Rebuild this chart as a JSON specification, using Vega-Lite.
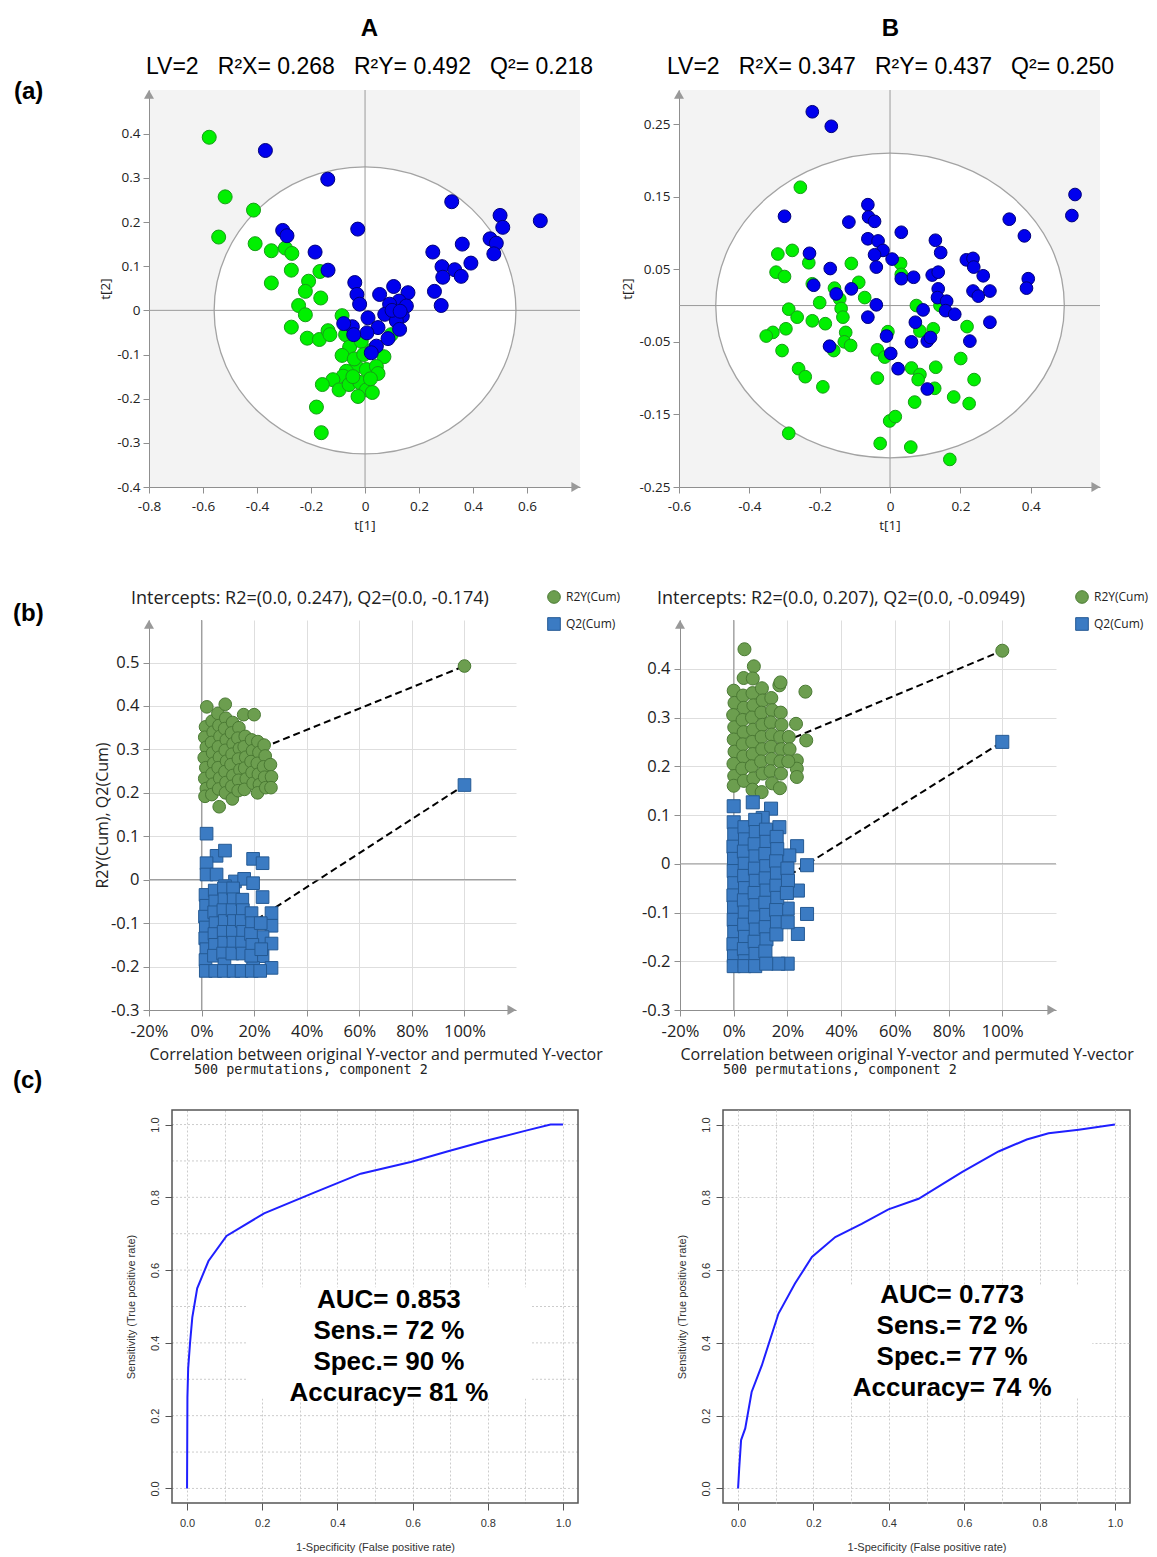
{
"$schema": "https://vega.github.io/schema/vega-lite/v6.json",
"padding": {"left": 12, "top": 16, "right": 4, "bottom": 2},
"background": "white",
"columns": 1,
"align": "none",
"spacing": -9,
"resolve": {"scale": {"color": "independent", "stroke": "independent", "shape": "independent"}, "legend": {"color": "independent", "stroke": "independent", "shape": "independent"}},
"concat": [
{"columns": 1, "align": "none", "spacing": 58,
 "resolve": {"scale": {"color": "independent", "stroke": "independent", "shape": "independent"}, "legend": {"color": "independent", "stroke": "independent", "shape": "independent"}},
 "concat": [
 {"spacing": 26,
  "resolve": {"scale": {"color": "independent", "stroke": "independent", "shape": "independent"}, "legend": {"color": "independent", "stroke": "independent", "shape": "independent"}},
  "hconcat": [
  {"width": 431, "height": 397,
   "view": {"fill": "#f3f3f3", "stroke": null},
   "title": {"text": "A", "subtitle": "LV=2\u00a0\u00a0\u00a0R²X= 0.268\u00a0\u00a0\u00a0R²Y= 0.492\u00a0\u00a0\u00a0Q²= 0.218", "frame": "group", "anchor": "middle", "dx": 5, "offset": 1},
   "layer": [
    {"data": {"name": "origin"}, "mark": {"type": "point", "shape": "M-1,0C-1,-0.5252,-0.5523,-0.951,0,-0.951C0.5523,-0.951,1,-0.5252,1,0C1,0.5252,0.5523,0.951,0,0.951C-0.5523,0.951,-1,0.5252,-1,0Z", "size": 91083, "filled": true, "fill": "white", "stroke": "#a3a3a3", "strokeWidth": 1.3, "opacity": 1},
     "encoding": {
      "x": {"field": "t1", "type": "quantitative", "scale": {"domain": [-0.8, 0.796], "nice": false, "zero": false},
        "axis": {"title": "t[1]", "values": [-0.8,-0.7,-0.6,-0.5,-0.4,-0.3,-0.2,-0.1,0,0.1,0.2,0.3,0.4,0.5,0.6,0.7], "format": "~g",
          "labelExpr": "abs(round(datum.value*10))%2==0 ? datum.label : ''",
          "tickSize": {"condition": {"test": "abs(round(datum.value*10))%2==0", "value": 6}, "value": 3},
          "labelPadding": 6, "titlePadding": 6}},
      "y": {"field": "t2", "type": "quantitative", "scale": {"domain": [-0.4, 0.499], "nice": false, "zero": false},
        "axis": {"title": "t[2]", "values": [-0.4,-0.35,-0.3,-0.25,-0.2,-0.15,-0.1,-0.05,0,0.05,0.1,0.15,0.2,0.25,0.3,0.35,0.4,0.45], "format": "~g",
          "labelExpr": "abs(round(datum.value*20))%2==0 ? datum.label : ''",
          "tickSize": {"condition": {"test": "abs(round(datum.value*20))%2==0", "value": 6}, "value": 3},
          "labelPadding": 3, "titlePadding": 4}}}},
    {"data": {"values": [{}]}, "mark": {"type": "rule", "color": "#9a9a9a", "strokeWidth": 1}, "encoding": {"x": {"datum": 0}}},
    {"data": {"values": [{}]}, "mark": {"type": "rule", "color": "#9a9a9a", "strokeWidth": 1}, "encoding": {"y": {"datum": 0}}},
    {"data": {"name": "scoreA"}, "mark": {"type": "point", "filled": true, "opacity": 1, "size": 196, "strokeWidth": 1},
     "encoding": {"x": {"field": "t1", "type": "quantitative"}, "y": {"field": "t2", "type": "quantitative"},
      "color": {"field": "c", "type": "nominal", "scale": {"domain": ["G", "B"], "range": ["#00f000", "#0000ee"]}, "legend": null},
      "stroke": {"field": "c", "type": "nominal", "scale": {"domain": ["G", "B"], "range": ["#179e17", "#00007a"]}, "legend": null}}},
    {"data": {"values": [{}]}, "mark": {"type": "text", "text": "(a)", "font": "Liberation Sans", "fontSize": 24, "fontWeight": "bold", "align": "left", "baseline": "middle", "color": "black"}, "encoding": {"x": {"datum": -1.3}, "y": {"datum": 0.494}}},
    {"data": {"values": [{}]}, "mark": {"type": "point", "shape": "triangle-up", "size": 100, "filled": true, "color": "#999999", "opacity": 1}, "encoding": {"x": {"datum": -0.8}, "y": {"datum": 0.489}}},
    {"data": {"values": [{}]}, "mark": {"type": "point", "shape": "triangle-right", "size": 100, "filled": true, "color": "#999999", "opacity": 1}, "encoding": {"x": {"datum": 0.780}, "y": {"datum": -0.4}}}
   ]},
  {"width": 421, "height": 397,
   "view": {"fill": "#f3f3f3", "stroke": null},
   "title": {"text": "B", "subtitle": "LV=2\u00a0\u00a0\u00a0R²X= 0.347\u00a0\u00a0\u00a0R²Y= 0.437\u00a0\u00a0\u00a0Q²= 0.250", "frame": "group", "anchor": "middle", "dx": 1, "offset": 11},
   "layer": [
    {"data": {"name": "origin"}, "mark": {"type": "point", "shape": "M-1,0C-1,-0.4827,-0.5523,-0.874,0,-0.874C0.5523,-0.874,1,-0.4827,1,0C1,0.4827,0.5523,0.874,0,0.874C-0.5523,0.874,-1,0.4827,-1,0Z", "size": 121522, "filled": true, "fill": "white", "stroke": "#a3a3a3", "strokeWidth": 1.3, "opacity": 1},
     "encoding": {
      "x": {"field": "t1", "type": "quantitative", "scale": {"domain": [-0.6, 0.597], "nice": false, "zero": false},
        "axis": {"title": "t[1]", "values": [-0.6,-0.5,-0.4,-0.3,-0.2,-0.1,0,0.1,0.2,0.3,0.4,0.5], "format": "~g",
          "labelExpr": "abs(round(datum.value*10))%2==0 ? datum.label : ''",
          "tickSize": {"condition": {"test": "abs(round(datum.value*10))%2==0", "value": 6}, "value": 3},
          "labelPadding": 6, "titlePadding": 6}},
      "y": {"field": "t2", "type": "quantitative", "scale": {"domain": [-0.25, 0.297], "nice": false, "zero": false},
        "axis": {"title": "t[2]", "values": [-0.25,-0.225,-0.2,-0.175,-0.15,-0.125,-0.1,-0.075,-0.05,-0.025,0,0.025,0.05,0.075,0.1,0.125,0.15,0.175,0.2,0.225,0.25,0.275], "format": "~g",
          "labelExpr": "abs(round(datum.value*40))%2==0 ? datum.label : ''",
          "tickSize": {"condition": {"test": "abs(round(datum.value*40))%2==0", "value": 6}, "value": 3},
          "labelPadding": 3, "titlePadding": 4}}}},
    {"data": {"values": [{}]}, "mark": {"type": "rule", "color": "#9a9a9a", "strokeWidth": 1}, "encoding": {"x": {"datum": 0}}},
    {"data": {"values": [{}]}, "mark": {"type": "rule", "color": "#9a9a9a", "strokeWidth": 1}, "encoding": {"y": {"datum": 0}}},
    {"data": {"name": "scoreB"}, "mark": {"type": "point", "filled": true, "opacity": 1, "size": 161, "strokeWidth": 1},
     "encoding": {"x": {"field": "t1", "type": "quantitative"}, "y": {"field": "t2", "type": "quantitative"},
      "color": {"field": "c", "type": "nominal", "scale": {"domain": ["G", "B"], "range": ["#00f000", "#0000ee"]}, "legend": null},
      "stroke": {"field": "c", "type": "nominal", "scale": {"domain": ["G", "B"], "range": ["#179e17", "#00007a"]}, "legend": null}}},
    {"data": {"values": [{}]}, "mark": {"type": "point", "shape": "triangle-up", "size": 100, "filled": true, "color": "#999999", "opacity": 1}, "encoding": {"x": {"datum": -0.6}, "y": {"datum": 0.291}}},
    {"data": {"values": [{}]}, "mark": {"type": "point", "shape": "triangle-right", "size": 100, "filled": true, "color": "#999999", "opacity": 1}, "encoding": {"x": {"datum": 0.585}, "y": {"datum": -0.25}}}
   ]}
 ]},
 {"spacing": 20,
  "resolve": {"scale": {"color": "independent", "stroke": "independent", "shape": "independent"}, "legend": {"color": "independent", "stroke": "independent", "shape": "independent"}},
  "hconcat": [
  {"width": 367, "height": 390,
   "title": {"text": "Intercepts: R2=(0.0, 0.247), Q2=(0.0, -0.174)", "frame": "group", "anchor": "start", "dx": -18, "offset": -18, "font": "Open Sans", "fontSize": 18, "fontWeight": "normal", "color": "#222222"},
   "layer": [
    {"data": {"name": "lineA"}, "mark": {"type": "line", "color": "black", "strokeWidth": 2, "strokeDash": [7, 4]},
     "encoding": {
      "x": {"field": "x", "type": "quantitative", "scale": {"domain": [-0.2, 1.196], "nice": false, "zero": false},
        "axis": {"title": "Correlation between original Y-vector and permuted Y-vector", "titleAnchor": "start", "values": [-0.2,-0.1,0,0.1,0.2,0.3,0.4,0.5,0.6,0.7,0.8,0.9,1,1.1], "format": ".0%",
          "labelExpr": "abs(round(datum.value*10))%2==0 ? datum.label : ''",
          "tickSize": {"condition": {"test": "abs(round(datum.value*10))%2==0", "value": 6}, "value": 3},
          "grid": true, "gridColor": "#dedede", "gridOpacity": {"condition": {"test": "abs(round(datum.value*10))%2==0", "value": 1}, "value": 0},
          "labelFontSize": 16.5, "titleFontSize": 16, "labelPadding": 7, "titlePadding": 7}},
      "y": {"field": "y", "type": "quantitative", "scale": {"domain": [-0.3, 0.598], "nice": false, "zero": false},
        "axis": {"title": "R2Y(Cum), Q2(Cum)", "values": [-0.3,-0.275,-0.25,-0.225,-0.2,-0.175,-0.15,-0.125,-0.1,-0.075,-0.05,-0.025,0,0.025,0.05,0.075,0.1,0.125,0.15,0.175,0.2,0.225,0.25,0.275,0.3,0.325,0.35,0.375,0.4,0.425,0.45,0.475,0.5,0.525,0.55,0.575], "format": "~g",
          "labelExpr": "abs(round(datum.value*40))%4==0 ? datum.label : ''",
          "tickSize": {"condition": {"test": "abs(round(datum.value*40))%4==0", "value": 6}, "value": 3},
          "grid": true, "gridColor": "#dedede", "gridOpacity": {"condition": {"test": "abs(round(datum.value*40))%4==0", "value": 1}, "value": 0},
          "labelFontSize": 16.5, "titleFontSize": 16, "labelPadding": 4, "titlePadding": 0}},
      "detail": {"field": "s"}}},
    {"data": {"values": [{}]}, "mark": {"type": "rule", "color": "#9f9f9f", "strokeWidth": 1.2}, "encoding": {"x": {"datum": 0}}},
    {"data": {"values": [{}]}, "mark": {"type": "rule", "color": "#9f9f9f", "strokeWidth": 1.2}, "encoding": {"y": {"datum": 0}}},
    {"data": {"name": "permA"}, "mark": {"type": "point", "filled": true, "opacity": 1, "size": 160, "strokeWidth": 1},
     "encoding": {"x": {"field": "x", "type": "quantitative"}, "y": {"field": "y", "type": "quantitative"},
      "color": {"field": "s", "type": "nominal", "scale": {"domain": ["R2Y(Cum)", "Q2(Cum)"], "range": ["#6c9e4f", "#3b7bc3"]},
        "legend": {"title": null, "orient": "none", "legendX": 398, "legendY": -30, "labelFont": "Open Sans", "labelFontSize": 12, "labelColor": "#222222", "symbolSize": 160, "rowPadding": 9, "symbolStrokeWidth": 1, "labelOffset": 5}},
      "shape": {"field": "s", "type": "nominal", "scale": {"domain": ["R2Y(Cum)", "Q2(Cum)"], "range": ["circle", "square"]},
        "legend": {"title": null, "orient": "none", "legendX": 398, "legendY": -30, "labelFont": "Open Sans", "labelFontSize": 12, "labelColor": "#222222", "symbolSize": 160, "rowPadding": 9, "symbolStrokeWidth": 1, "labelOffset": 5}},
      "stroke": {"field": "s", "type": "nominal", "scale": {"domain": ["R2Y(Cum)", "Q2(Cum)"], "range": ["#4b7a34", "#255a94"]},
        "legend": {"title": null, "orient": "none", "legendX": 398, "legendY": -30, "labelFont": "Open Sans", "labelFontSize": 12, "labelColor": "#222222", "symbolSize": 160, "rowPadding": 9, "symbolStrokeWidth": 1, "labelOffset": 5}}}},
    {"data": {"values": [{}]}, "mark": {"type": "text", "text": "(b)", "font": "Liberation Sans", "fontSize": 24, "fontWeight": "bold", "align": "left", "baseline": "middle", "color": "black"}, "encoding": {"x": {"datum": -0.717}, "y": {"datum": 0.611}}},
    {"data": {"values": [{}]}, "mark": {"type": "text", "text": "500 permutations, component 2", "font": "DejaVu Sans Mono", "fontSize": 13.4, "align": "left", "baseline": "middle", "color": "#222222"}, "encoding": {"x": {"datum": -0.029}, "y": {"datum": -0.438}}},
    {"data": {"values": [{}]}, "mark": {"type": "point", "shape": "triangle-up", "size": 100, "filled": true, "color": "#999999", "opacity": 1}, "encoding": {"x": {"datum": -0.2}, "y": {"datum": 0.588}}},
    {"data": {"values": [{}]}, "mark": {"type": "point", "shape": "triangle-right", "size": 100, "filled": true, "color": "#999999", "opacity": 1}, "encoding": {"x": {"datum": 1.180}, "y": {"datum": -0.3}}}
   ]},
  {"width": 376, "height": 390,
   "title": {"text": "Intercepts: R2=(0.0, 0.207), Q2=(0.0, -0.0949)", "frame": "group", "anchor": "start", "dx": -23, "offset": -18, "font": "Open Sans", "fontSize": 18, "fontWeight": "normal", "color": "#222222"},
   "layer": [
    {"data": {"name": "lineB"}, "mark": {"type": "line", "color": "black", "strokeWidth": 2, "strokeDash": [7, 4]},
     "encoding": {
      "x": {"field": "x", "type": "quantitative", "scale": {"domain": [-0.2, 1.2], "nice": false, "zero": false},
        "axis": {"title": "Correlation between original Y-vector and permuted Y-vector", "titleAnchor": "start", "values": [-0.2,-0.1,0,0.1,0.2,0.3,0.4,0.5,0.6,0.7,0.8,0.9,1,1.1], "format": ".0%",
          "labelExpr": "abs(round(datum.value*10))%2==0 ? datum.label : ''",
          "tickSize": {"condition": {"test": "abs(round(datum.value*10))%2==0", "value": 6}, "value": 3},
          "grid": true, "gridColor": "#dedede", "gridOpacity": {"condition": {"test": "abs(round(datum.value*10))%2==0", "value": 1}, "value": 0},
          "labelFontSize": 16.5, "titleFontSize": 16, "labelPadding": 7, "titlePadding": 7}},
      "y": {"field": "y", "type": "quantitative", "scale": {"domain": [-0.3, 0.5], "nice": false, "zero": false},
        "axis": {"title": null, "values": [-0.3,-0.275,-0.25,-0.225,-0.2,-0.175,-0.15,-0.125,-0.1,-0.075,-0.05,-0.025,0,0.025,0.05,0.075,0.1,0.125,0.15,0.175,0.2,0.225,0.25,0.275,0.3,0.325,0.35,0.375,0.4,0.425,0.45,0.475], "format": "~g",
          "labelExpr": "abs(round(datum.value*40))%4==0 ? datum.label : ''",
          "tickSize": {"condition": {"test": "abs(round(datum.value*40))%4==0", "value": 6}, "value": 3},
          "grid": true, "gridColor": "#dedede", "gridOpacity": {"condition": {"test": "abs(round(datum.value*40))%4==0", "value": 1}, "value": 0},
          "labelFontSize": 16.5, "labelPadding": 4}},
      "detail": {"field": "s"}}},
    {"data": {"values": [{}]}, "mark": {"type": "rule", "color": "#9f9f9f", "strokeWidth": 1.2}, "encoding": {"x": {"datum": 0}}},
    {"data": {"values": [{}]}, "mark": {"type": "rule", "color": "#9f9f9f", "strokeWidth": 1.2}, "encoding": {"y": {"datum": 0}}},
    {"data": {"name": "permB"}, "mark": {"type": "point", "filled": true, "opacity": 1, "size": 170, "strokeWidth": 1},
     "encoding": {"x": {"field": "x", "type": "quantitative"}, "y": {"field": "y", "type": "quantitative"},
      "color": {"field": "s", "type": "nominal", "scale": {"domain": ["R2Y(Cum)", "Q2(Cum)"], "range": ["#6c9e4f", "#3b7bc3"]},
        "legend": {"title": null, "orient": "none", "legendX": 395, "legendY": -30, "labelFont": "Open Sans", "labelFontSize": 12, "labelColor": "#222222", "symbolSize": 160, "rowPadding": 9, "symbolStrokeWidth": 1, "labelOffset": 5}},
      "shape": {"field": "s", "type": "nominal", "scale": {"domain": ["R2Y(Cum)", "Q2(Cum)"], "range": ["circle", "square"]},
        "legend": {"title": null, "orient": "none", "legendX": 395, "legendY": -30, "labelFont": "Open Sans", "labelFontSize": 12, "labelColor": "#222222", "symbolSize": 160, "rowPadding": 9, "symbolStrokeWidth": 1, "labelOffset": 5}},
      "stroke": {"field": "s", "type": "nominal", "scale": {"domain": ["R2Y(Cum)", "Q2(Cum)"], "range": ["#4b7a34", "#255a94"]},
        "legend": {"title": null, "orient": "none", "legendX": 395, "legendY": -30, "labelFont": "Open Sans", "labelFontSize": 12, "labelColor": "#222222", "symbolSize": 160, "rowPadding": 9, "symbolStrokeWidth": 1, "labelOffset": 5}}}},
    {"data": {"values": [{}]}, "mark": {"type": "text", "text": "500 permutations, component 2", "font": "DejaVu Sans Mono", "fontSize": 13.4, "align": "left", "baseline": "middle", "color": "#222222"}, "encoding": {"x": {"datum": -0.04}, "y": {"datum": -0.423}}},
    {"data": {"values": [{}]}, "mark": {"type": "point", "shape": "triangle-up", "size": 100, "filled": true, "color": "#999999", "opacity": 1}, "encoding": {"x": {"datum": -0.2}, "y": {"datum": 0.491}}},
    {"data": {"values": [{}]}, "mark": {"type": "point", "shape": "triangle-right", "size": 100, "filled": true, "color": "#999999", "opacity": 1}, "encoding": {"x": {"datum": 1.184}, "y": {"datum": -0.3}}}
   ]}
 ]}
]},
{"spacing": 96,
 "hconcat": [
  {"width": 429, "height": 393,
   "view": {"stroke": null},
   "layer": [
    {"data": {"name": "gridv"}, "mark": {"type": "rule", "color": "#cccccc", "strokeDash": [2, 2], "strokeWidth": 1}, "encoding": {"y": {"field": "v", "type": "quantitative"}, "x": {"datum": -0.04}, "x2": {"datum": 1.04}}},
    {"data": {"values": [{}]}, "mark": {"type": "rect", "fill": "white"}, "encoding": {"x": {"datum": 0.16}, "x2": {"datum": 0.915}, "y": {"datum": 0.553}, "y2": {"datum": 0.247}}},
    {"data": {"name": "rocA"}, "mark": {"type": "line", "color": "#1f1fff", "strokeWidth": 2},
     "encoding": {
      "x": {"field": "fpr", "type": "quantitative", "scale": {"domain": [-0.1012, 1.04], "nice": false, "zero": false},
        "axis": {"title": "1-Specificity (False positive rate)", "titleX": 226, "values": [0,0.1,0.2,0.3,0.4,0.5,0.6,0.7,0.8,0.9,1], "format": ".1f",
          "labelExpr": "round(datum.value*10)%2==0 ? datum.label : ''",
          "tickOpacity": {"condition": {"test": "round(datum.value*10)%2==0", "value": 1}, "value": 0},
          "tickSize": 7, "tickColor": "#555555", "domain": false, "grid": true, "gridColor": "#cccccc", "gridDash": [2, 2],
          "labelFont": "Liberation Sans", "labelFontSize": 11, "labelColor": "#333333", "labelPadding": 7,
          "titleFont": "Liberation Sans", "titleFontSize": 11, "titleColor": "#333333", "titlePadding": 13}},
      "y": {"field": "tpr", "type": "quantitative", "scale": {"domain": [-0.04, 1.04], "nice": false, "zero": false},
        "axis": {"title": "Sensitivity (True positive rate)", "offset": -23, "values": [0,0.2,0.4,0.6,0.8,1], "format": ".1f",
          "tickSize": 7, "tickColor": "#555555", "domain": false, "grid": false, "labelAngle": -90,
          "labelFont": "Liberation Sans", "labelFontSize": 11, "labelColor": "#333333", "labelPadding": 5,
          "titleFont": "Liberation Sans", "titleFontSize": 11, "titleColor": "#333333", "titlePadding": 13}}}},
    {"data": {"values": [{}]}, "mark": {"type": "text", "text": ["AUC= 0.853", "Sens.= 72 %", "Spec.= 90 %", "Accuracy= 81 %"], "font": "Liberation Sans", "fontSize": 26, "fontWeight": "bold", "align": "center", "baseline": "middle", "lineHeight": 31, "color": "black"}, "encoding": {"x": {"datum": 0.537}, "y": {"datum": 0.519}}},
    {"data": {"values": [{}]}, "mark": {"type": "text", "text": "(c)", "font": "Liberation Sans", "fontSize": 24, "fontWeight": "bold", "align": "left", "baseline": "middle", "color": "black"}, "encoding": {"x": {"datum": -0.463}, "y": {"datum": 1.12}}},
    {"data": {"values": [{}]}, "mark": {"type": "rect", "filled": false, "color": "#555555", "strokeWidth": 1.5}, "encoding": {"x": {"datum": -0.04}, "x2": {"datum": 1.04}, "y": {"datum": -0.04}, "y2": {"datum": 1.04}}}
   ]},
  {"width": 407, "height": 393,
   "view": {"stroke": "#555555", "strokeWidth": 1.5},
   "layer": [
    {"data": {"values": [{}]}, "mark": {"type": "rect", "fill": "white"}, "encoding": {"x": {"datum": 0.2}, "x2": {"datum": 0.94}, "y": {"datum": 0.56}, "y2": {"datum": 0.25}}},
    {"data": {"name": "rocB"}, "mark": {"type": "line", "color": "#1f1fff", "strokeWidth": 2},
     "encoding": {
      "x": {"field": "fpr", "type": "quantitative", "scale": {"domain": [-0.04, 1.04], "nice": false, "zero": false},
        "axis": {"title": "1-Specificity (False positive rate)", "values": [0,0.1,0.2,0.3,0.4,0.5,0.6,0.7,0.8,0.9,1], "format": ".1f",
          "labelExpr": "round(datum.value*10)%2==0 ? datum.label : ''",
          "tickOpacity": {"condition": {"test": "round(datum.value*10)%2==0", "value": 1}, "value": 0},
          "tickSize": 7, "tickColor": "#555555", "domain": false, "grid": true, "gridColor": "#cccccc", "gridDash": [2, 2],
          "labelFont": "Liberation Sans", "labelFontSize": 11, "labelColor": "#333333", "labelPadding": 7,
          "titleFont": "Liberation Sans", "titleFontSize": 11, "titleColor": "#333333", "titlePadding": 13}},
      "y": {"field": "tpr", "type": "quantitative", "scale": {"domain": [-0.04, 1.04], "nice": false, "zero": false},
        "axis": {"title": "Sensitivity (True positive rate)", "values": [0,0.1,0.2,0.3,0.4,0.5,0.6,0.7,0.8,0.9,1], "format": ".1f",
          "labelExpr": "round(datum.value*10)%2==0 ? datum.label : ''",
          "tickOpacity": {"condition": {"test": "round(datum.value*10)%2==0", "value": 1}, "value": 0},
          "tickSize": 7, "tickColor": "#555555", "domain": false, "grid": true, "gridColor": "#cccccc", "gridDash": [2, 2], "labelAngle": -90,
          "labelFont": "Liberation Sans", "labelFontSize": 11, "labelColor": "#333333", "labelPadding": 5,
          "titleFont": "Liberation Sans", "titleFontSize": 11, "titleColor": "#333333", "titlePadding": 13}}}},
    {"data": {"values": [{}]}, "mark": {"type": "text", "text": ["AUC= 0.773", "Sens.= 72 %", "Spec.= 77 %", "Accuracy= 74 %"], "font": "Liberation Sans", "fontSize": 26, "fontWeight": "bold", "align": "center", "baseline": "middle", "lineHeight": 31, "color": "black"}, "encoding": {"x": {"datum": 0.568}, "y": {"datum": 0.531}}}
   ]}
 ]}
],
"config": {
 "view": {"stroke": null},
 "locale": {"number": {"decimal": ".", "thousands": ",", "grouping": [3], "currency": ["$", ""], "minus": "-"}},
 "axis": {"labelFont": "Open Sans", "titleFont": "Open Sans", "titleFontWeight": "normal", "labelColor": "#222222", "titleColor": "#222222", "domainColor": "#8f8f8f", "tickColor": "#8f8f8f", "grid": false, "labelFlush": false, "labelOverlap": false, "labelFontSize": 13.5, "titleFontSize": 13.5},
 "title": {"font": "Liberation Sans", "fontSize": 24, "fontWeight": "bold", "color": "black", "subtitleFont": "Liberation Sans", "subtitleFontSize": 23, "subtitleColor": "black", "subtitlePadding": 15}
},
"datasets": {
 "origin": [{"t1": 0, "t2": 0}],
 "gridv": [{"v":0},{"v":0.1},{"v":0.2},{"v":0.3},{"v":0.4},{"v":0.5},{"v":0.6},{"v":0.7},{"v":0.8},{"v":0.9},{"v":1.0}],
 "scoreA": [
  {"t1":-0.577,"t2":0.392,"c":"G"},{"t1":-0.518,"t2":0.257,"c":"G"},{"t1":-0.413,"t2":0.227,"c":"G"},{"t1":-0.542,"t2":0.166,"c":"G"},{"t1":-0.407,"t2":0.151,"c":"G"},{"t1":-0.347,"t2":0.135,"c":"G"},{"t1":-0.295,"t2":0.141,"c":"G"},{"t1":-0.271,"t2":0.129,"c":"G"},{"t1":-0.273,"t2":0.091,"c":"G"},{"t1":-0.347,"t2":0.062,"c":"G"},
  {"t1":-0.167,"t2":0.088,"c":"G"},{"t1":-0.209,"t2":0.066,"c":"G"},{"t1":-0.221,"t2":0.043,"c":"G"},{"t1":-0.164,"t2":0.028,"c":"G"},{"t1":-0.246,"t2":0.011,"c":"G"},{"t1":-0.221,"t2":-0.010,"c":"G"},{"t1":-0.273,"t2":-0.038,"c":"G"},{"t1":-0.214,"t2":-0.063,"c":"G"},{"t1":-0.169,"t2":-0.066,"c":"G"},{"t1":-0.137,"t2":-0.046,"c":"G"},
  {"t1":-0.130,"t2":-0.055,"c":"G"},{"t1":-0.085,"t2":-0.012,"c":"G"},{"t1":-0.072,"t2":-0.055,"c":"G"},{"t1":-0.057,"t2":-0.083,"c":"G"},{"t1":-0.085,"t2":-0.102,"c":"G"},{"t1":0.070,"t2":-0.105,"c":"G"},{"t1":-0.014,"t2":-0.070,"c":"G"},{"t1":0.097,"t2":-0.055,"c":"G"},{"t1":0.026,"t2":-0.090,"c":"G"},{"t1":-0.032,"t2":-0.127,"c":"G"},
  {"t1":-0.069,"t2":-0.138,"c":"G"},{"t1":-0.081,"t2":-0.149,"c":"G"},{"t1":0.005,"t2":-0.134,"c":"G"},{"t1":0.042,"t2":-0.127,"c":"G"},{"t1":0.048,"t2":-0.143,"c":"G"},{"t1":-0.119,"t2":-0.157,"c":"G"},{"t1":-0.158,"t2":-0.168,"c":"G"},{"t1":-0.096,"t2":-0.180,"c":"G"},{"t1":-0.059,"t2":-0.168,"c":"G"},{"t1":-0.020,"t2":-0.163,"c":"G"},
  {"t1":0.005,"t2":-0.180,"c":"G"},{"t1":0.027,"t2":-0.186,"c":"G"},{"t1":-0.026,"t2":-0.195,"c":"G"},{"t1":-0.045,"t2":-0.150,"c":"G"},{"t1":0.020,"t2":-0.155,"c":"G"},{"t1":-0.180,"t2":-0.219,"c":"G"},{"t1":-0.162,"t2":-0.277,"c":"G"},{"t1":-0.040,"t2":-0.110,"c":"G"},{"t1":-0.005,"t2":-0.100,"c":"G"},
  {"t1":-0.369,"t2":0.362,"c":"B"},{"t1":-0.138,"t2":0.297,"c":"B"},{"t1":-0.027,"t2":0.184,"c":"B"},{"t1":-0.305,"t2":0.181,"c":"B"},{"t1":-0.289,"t2":0.169,"c":"B"},{"t1":-0.185,"t2":0.132,"c":"B"},{"t1":-0.137,"t2":0.091,"c":"B"},{"t1":0.321,"t2":0.246,"c":"B"},{"t1":0.500,"t2":0.215,"c":"B"},{"t1":0.510,"t2":0.188,"c":"B"},
  {"t1":0.649,"t2":0.203,"c":"B"},{"t1":0.463,"t2":0.162,"c":"B"},{"t1":0.486,"t2":0.152,"c":"B"},{"t1":0.477,"t2":0.128,"c":"B"},{"t1":0.360,"t2":0.150,"c":"B"},{"t1":0.251,"t2":0.132,"c":"B"},{"t1":0.392,"t2":0.107,"c":"B"},{"t1":0.285,"t2":0.099,"c":"B"},{"t1":0.332,"t2":0.092,"c":"B"},{"t1":0.288,"t2":0.075,"c":"B"},
  {"t1":0.356,"t2":0.077,"c":"B"},{"t1":0.257,"t2":0.043,"c":"B"},{"t1":0.282,"t2":0.011,"c":"B"},{"t1":-0.038,"t2":0.063,"c":"B"},{"t1":-0.030,"t2":0.036,"c":"B"},{"t1":-0.020,"t2":0.014,"c":"B"},{"t1":0.054,"t2":0.036,"c":"B"},{"t1":0.106,"t2":0.054,"c":"B"},{"t1":0.159,"t2":0.040,"c":"B"},{"t1":0.126,"t2":0.021,"c":"B"},
  {"t1":0.153,"t2":0.010,"c":"B"},{"t1":0.091,"t2":0.014,"c":"B"},{"t1":0.073,"t2":-0.009,"c":"B"},{"t1":0.138,"t2":-0.013,"c":"B"},{"t1":0.116,"t2":-0.024,"c":"B"},{"t1":0.011,"t2":-0.017,"c":"B"},{"t1":0.048,"t2":-0.039,"c":"B"},{"t1":0.007,"t2":-0.051,"c":"B"},{"t1":-0.047,"t2":-0.037,"c":"B"},{"t1":-0.042,"t2":-0.055,"c":"B"},
  {"t1":0.128,"t2":-0.043,"c":"B"},{"t1":0.085,"t2":-0.064,"c":"B"},{"t1":0.042,"t2":-0.081,"c":"B"},{"t1":0.023,"t2":-0.096,"c":"B"},{"t1":-0.079,"t2":-0.030,"c":"B"},{"t1":0.100,"t2":0.000,"c":"B"},{"t1":0.130,"t2":-0.002,"c":"B"}
 ],
 "scoreB": [
  {"t1":-0.255,"t2":0.163,"c":"G"},{"t1":-0.319,"t2":0.071,"c":"G"},{"t1":-0.278,"t2":0.076,"c":"G"},{"t1":-0.231,"t2":0.059,"c":"G"},{"t1":-0.324,"t2":0.046,"c":"G"},{"t1":-0.300,"t2":0.040,"c":"G"},{"t1":-0.221,"t2":0.030,"c":"G"},{"t1":-0.110,"t2":0.058,"c":"G"},{"t1":-0.089,"t2":0.032,"c":"G"},{"t1":-0.158,"t2":0.024,"c":"G"},
  {"t1":-0.200,"t2":0.004,"c":"G"},{"t1":-0.072,"t2":0.011,"c":"G"},{"t1":-0.143,"t2":0.009,"c":"G"},{"t1":-0.139,"t2":-0.004,"c":"G"},{"t1":-0.134,"t2":-0.016,"c":"G"},{"t1":-0.288,"t2":-0.005,"c":"G"},{"t1":-0.264,"t2":-0.016,"c":"G"},{"t1":-0.221,"t2":-0.021,"c":"G"},{"t1":-0.184,"t2":-0.025,"c":"G"},{"t1":-0.296,"t2":-0.032,"c":"G"},
  {"t1":-0.333,"t2":-0.037,"c":"G"},{"t1":-0.352,"t2":-0.042,"c":"G"},{"t1":-0.307,"t2":-0.062,"c":"G"},{"t1":-0.126,"t2":-0.037,"c":"G"},{"t1":-0.130,"t2":-0.050,"c":"G"},{"t1":-0.112,"t2":-0.055,"c":"G"},{"t1":-0.160,"t2":-0.062,"c":"G"},{"t1":-0.260,"t2":-0.087,"c":"G"},{"t1":-0.241,"t2":-0.098,"c":"G"},{"t1":-0.191,"t2":-0.112,"c":"G"},
  {"t1":-0.288,"t2":-0.176,"c":"G"},{"t1":-0.036,"t2":-0.061,"c":"G"},{"t1":-0.015,"t2":-0.071,"c":"G"},{"t1":-0.006,"t2":-0.036,"c":"G"},{"t1":-0.036,"t2":-0.100,"c":"G"},{"t1":-0.028,"t2":-0.190,"c":"G"},{"t1":-0.001,"t2":-0.159,"c":"G"},{"t1":0.015,"t2":-0.153,"c":"G"},{"t1":0.061,"t2":-0.086,"c":"G"},{"t1":0.085,"t2":-0.095,"c":"G"},
  {"t1":0.080,"t2":-0.102,"c":"G"},{"t1":0.070,"t2":-0.133,"c":"G"},{"t1":0.059,"t2":-0.195,"c":"G"},{"t1":0.170,"t2":-0.212,"c":"G"},{"t1":0.181,"t2":-0.126,"c":"G"},{"t1":0.225,"t2":-0.135,"c":"G"},{"t1":0.239,"t2":-0.102,"c":"G"},{"t1":0.201,"t2":-0.073,"c":"G"},{"t1":0.219,"t2":-0.029,"c":"G"},{"t1":0.127,"t2":-0.114,"c":"G"},
  {"t1":0.130,"t2":-0.085,"c":"G"},{"t1":0.123,"t2":-0.032,"c":"G"},{"t1":0.085,"t2":-0.035,"c":"G"},{"t1":0.075,"t2":0.000,"c":"G"},{"t1":0.142,"t2":0.000,"c":"G"},{"t1":0.030,"t2":0.058,"c":"G"},{"t1":0.032,"t2":0.043,"c":"G"},
  {"t1":-0.221,"t2":0.267,"c":"B"},{"t1":-0.167,"t2":0.247,"c":"B"},{"t1":0.526,"t2":0.153,"c":"B"},{"t1":0.517,"t2":0.124,"c":"B"},{"t1":0.339,"t2":0.119,"c":"B"},{"t1":0.382,"t2":0.096,"c":"B"},{"t1":-0.300,"t2":0.123,"c":"B"},{"t1":-0.117,"t2":0.115,"c":"B"},{"t1":-0.063,"t2":0.139,"c":"B"},{"t1":-0.061,"t2":0.122,"c":"B"},
  {"t1":-0.044,"t2":0.116,"c":"B"},{"t1":0.032,"t2":0.101,"c":"B"},{"t1":-0.063,"t2":0.092,"c":"B"},{"t1":-0.034,"t2":0.089,"c":"B"},{"t1":-0.020,"t2":0.076,"c":"B"},{"t1":-0.044,"t2":0.070,"c":"B"},{"t1":0.006,"t2":0.064,"c":"B"},{"t1":-0.039,"t2":0.053,"c":"B"},{"t1":-0.229,"t2":0.072,"c":"B"},{"t1":-0.170,"t2":0.051,"c":"B"},
  {"t1":-0.217,"t2":0.028,"c":"B"},{"t1":-0.153,"t2":0.016,"c":"B"},{"t1":-0.110,"t2":0.023,"c":"B"},{"t1":-0.039,"t2":0.001,"c":"B"},{"t1":-0.063,"t2":-0.016,"c":"B"},{"t1":0.032,"t2":0.037,"c":"B"},{"t1":0.067,"t2":0.039,"c":"B"},{"t1":0.129,"t2":0.090,"c":"B"},{"t1":0.144,"t2":0.073,"c":"B"},{"t1":0.120,"t2":0.042,"c":"B"},
  {"t1":0.137,"t2":0.046,"c":"B"},{"t1":0.137,"t2":0.023,"c":"B"},{"t1":0.135,"t2":0.011,"c":"B"},{"t1":0.161,"t2":0.006,"c":"B"},{"t1":0.158,"t2":-0.007,"c":"B"},{"t1":0.184,"t2":-0.012,"c":"B"},{"t1":0.094,"t2":-0.006,"c":"B"},{"t1":0.072,"t2":-0.023,"c":"B"},{"t1":0.217,"t2":0.063,"c":"B"},{"t1":0.236,"t2":0.065,"c":"B"},
  {"t1":0.238,"t2":0.053,"c":"B"},{"t1":0.265,"t2":0.041,"c":"B"},{"t1":0.236,"t2":0.020,"c":"B"},{"t1":0.251,"t2":0.013,"c":"B"},{"t1":0.284,"t2":0.020,"c":"B"},{"t1":0.284,"t2":-0.023,"c":"B"},{"t1":0.227,"t2":-0.049,"c":"B"},{"t1":0.393,"t2":0.037,"c":"B"},{"t1":0.388,"t2":0.024,"c":"B"},{"t1":-0.010,"t2":-0.042,"c":"B"},
  {"t1":0.002,"t2":-0.066,"c":"B"},{"t1":-0.172,"t2":-0.056,"c":"B"},{"t1":0.061,"t2":-0.050,"c":"B"},{"t1":0.106,"t2":-0.049,"c":"B"},{"t1":0.115,"t2":-0.044,"c":"B"},{"t1":0.023,"t2":-0.087,"c":"B"},{"t1":0.106,"t2":-0.115,"c":"B"}
 ],
 "lineA": [{"x":0,"y":0.247,"s":"R2"},{"x":1,"y":0.492,"s":"R2"},{"x":0,"y":-0.174,"s":"Q2"},{"x":1,"y":0.218,"s":"Q2"}],
 "lineB": [{"x":0,"y":0.207,"s":"R2"},{"x":1,"y":0.437,"s":"R2"},{"x":0,"y":-0.0949,"s":"Q2"},{"x":1,"y":0.250,"s":"Q2"}],
 "permA": [
  {"x":0.015,"y":0.352,"s":"R2Y(Cum)"},{"x":0.012,"y":0.328,"s":"R2Y(Cum)"},{"x":0.018,"y":0.305,"s":"R2Y(Cum)"},{"x":0.010,"y":0.281,"s":"R2Y(Cum)"},{"x":0.016,"y":0.258,"s":"R2Y(Cum)"},{"x":0.012,"y":0.233,"s":"R2Y(Cum)"},{"x":0.018,"y":0.210,"s":"R2Y(Cum)"},{"x":0.013,"y":0.192,"s":"R2Y(Cum)"},{"x":0.020,"y":0.398,"s":"R2Y(Cum)"},
  {"x":0.040,"y":0.365,"s":"R2Y(Cum)"},{"x":0.044,"y":0.340,"s":"R2Y(Cum)"},{"x":0.038,"y":0.316,"s":"R2Y(Cum)"},{"x":0.042,"y":0.292,"s":"R2Y(Cum)"},{"x":0.046,"y":0.268,"s":"R2Y(Cum)"},{"x":0.040,"y":0.244,"s":"R2Y(Cum)"},{"x":0.043,"y":0.220,"s":"R2Y(Cum)"},{"x":0.039,"y":0.196,"s":"R2Y(Cum)"},
  {"x":0.062,"y":0.383,"s":"R2Y(Cum)"},{"x":0.066,"y":0.355,"s":"R2Y(Cum)"},{"x":0.070,"y":0.330,"s":"R2Y(Cum)"},{"x":0.064,"y":0.306,"s":"R2Y(Cum)"},{"x":0.068,"y":0.282,"s":"R2Y(Cum)"},{"x":0.063,"y":0.258,"s":"R2Y(Cum)"},{"x":0.069,"y":0.234,"s":"R2Y(Cum)"},{"x":0.065,"y":0.209,"s":"R2Y(Cum)"},{"x":0.067,"y":0.168,"s":"R2Y(Cum)"},
  {"x":0.090,"y":0.404,"s":"R2Y(Cum)"},{"x":0.092,"y":0.372,"s":"R2Y(Cum)"},{"x":0.088,"y":0.348,"s":"R2Y(Cum)"},{"x":0.094,"y":0.322,"s":"R2Y(Cum)"},{"x":0.090,"y":0.298,"s":"R2Y(Cum)"},{"x":0.095,"y":0.273,"s":"R2Y(Cum)"},{"x":0.089,"y":0.249,"s":"R2Y(Cum)"},{"x":0.093,"y":0.224,"s":"R2Y(Cum)"},{"x":0.091,"y":0.200,"s":"R2Y(Cum)"},
  {"x":0.118,"y":0.362,"s":"R2Y(Cum)"},{"x":0.114,"y":0.338,"s":"R2Y(Cum)"},{"x":0.120,"y":0.313,"s":"R2Y(Cum)"},{"x":0.116,"y":0.289,"s":"R2Y(Cum)"},{"x":0.112,"y":0.265,"s":"R2Y(Cum)"},{"x":0.119,"y":0.240,"s":"R2Y(Cum)"},{"x":0.115,"y":0.215,"s":"R2Y(Cum)"},{"x":0.117,"y":0.186,"s":"R2Y(Cum)"},
  {"x":0.142,"y":0.350,"s":"R2Y(Cum)"},{"x":0.138,"y":0.326,"s":"R2Y(Cum)"},{"x":0.144,"y":0.302,"s":"R2Y(Cum)"},{"x":0.140,"y":0.278,"s":"R2Y(Cum)"},{"x":0.146,"y":0.253,"s":"R2Y(Cum)"},{"x":0.141,"y":0.229,"s":"R2Y(Cum)"},{"x":0.139,"y":0.205,"s":"R2Y(Cum)"},
  {"x":0.160,"y":0.380,"s":"R2Y(Cum)"},{"x":0.166,"y":0.330,"s":"R2Y(Cum)"},{"x":0.162,"y":0.306,"s":"R2Y(Cum)"},{"x":0.168,"y":0.282,"s":"R2Y(Cum)"},{"x":0.164,"y":0.257,"s":"R2Y(Cum)"},{"x":0.170,"y":0.232,"s":"R2Y(Cum)"},{"x":0.163,"y":0.208,"s":"R2Y(Cum)"},
  {"x":0.190,"y":0.322,"s":"R2Y(Cum)"},{"x":0.194,"y":0.297,"s":"R2Y(Cum)"},{"x":0.188,"y":0.272,"s":"R2Y(Cum)"},{"x":0.192,"y":0.247,"s":"R2Y(Cum)"},{"x":0.196,"y":0.222,"s":"R2Y(Cum)"},{"x":0.200,"y":0.380,"s":"R2Y(Cum)"},
  {"x":0.214,"y":0.318,"s":"R2Y(Cum)"},{"x":0.218,"y":0.293,"s":"R2Y(Cum)"},{"x":0.212,"y":0.268,"s":"R2Y(Cum)"},{"x":0.216,"y":0.243,"s":"R2Y(Cum)"},{"x":0.220,"y":0.219,"s":"R2Y(Cum)"},{"x":0.213,"y":0.200,"s":"R2Y(Cum)"},
  {"x":0.238,"y":0.310,"s":"R2Y(Cum)"},{"x":0.242,"y":0.285,"s":"R2Y(Cum)"},{"x":0.236,"y":0.260,"s":"R2Y(Cum)"},{"x":0.240,"y":0.236,"s":"R2Y(Cum)"},{"x":0.244,"y":0.212,"s":"R2Y(Cum)"},
  {"x":0.262,"y":0.265,"s":"R2Y(Cum)"},{"x":0.266,"y":0.237,"s":"R2Y(Cum)"},{"x":0.264,"y":0.212,"s":"R2Y(Cum)"},
  {"x":1.0,"y":0.492,"s":"R2Y(Cum)"},
  {"x":0.019,"y":0.106,"s":"Q2(Cum)"},{"x":0.057,"y":0.055,"s":"Q2(Cum)"},{"x":0.089,"y":0.067,"s":"Q2(Cum)"},{"x":0.019,"y":0.038,"s":"Q2(Cum)"},{"x":0.019,"y":0.012,"s":"Q2(Cum)"},{"x":0.057,"y":0.012,"s":"Q2(Cum)"},{"x":0.196,"y":0.048,"s":"Q2(Cum)"},{"x":0.232,"y":0.038,"s":"Q2(Cum)"},{"x":0.127,"y":-0.004,"s":"Q2(Cum)"},{"x":0.162,"y":0.002,"s":"Q2(Cum)"},
  {"x":0.196,"y":-0.008,"s":"Q2(Cum)"},{"x":0.089,"y":-0.015,"s":"Q2(Cum)"},{"x":0.232,"y":-0.040,"s":"Q2(Cum)"},{"x":0.266,"y":-0.077,"s":"Q2(Cum)"},{"x":0.266,"y":-0.106,"s":"Q2(Cum)"},{"x":0.232,"y":-0.132,"s":"Q2(Cum)"},{"x":0.266,"y":-0.147,"s":"Q2(Cum)"},{"x":0.232,"y":-0.176,"s":"Q2(Cum)"},{"x":0.266,"y":-0.203,"s":"Q2(Cum)"},{"x":0.196,"y":-0.203,"s":"Q2(Cum)"},
  {"x":0.015,"y":-0.035,"s":"Q2(Cum)"},{"x":0.017,"y":-0.060,"s":"Q2(Cum)"},{"x":0.013,"y":-0.085,"s":"Q2(Cum)"},{"x":0.016,"y":-0.110,"s":"Q2(Cum)"},{"x":0.014,"y":-0.135,"s":"Q2(Cum)"},{"x":0.018,"y":-0.160,"s":"Q2(Cum)"},{"x":0.015,"y":-0.185,"s":"Q2(Cum)"},{"x":0.016,"y":-0.210,"s":"Q2(Cum)"},
  {"x":0.050,"y":-0.025,"s":"Q2(Cum)"},{"x":0.052,"y":-0.050,"s":"Q2(Cum)"},{"x":0.048,"y":-0.075,"s":"Q2(Cum)"},{"x":0.053,"y":-0.100,"s":"Q2(Cum)"},{"x":0.049,"y":-0.125,"s":"Q2(Cum)"},{"x":0.051,"y":-0.150,"s":"Q2(Cum)"},{"x":0.047,"y":-0.175,"s":"Q2(Cum)"},{"x":0.052,"y":-0.210,"s":"Q2(Cum)"},
  {"x":0.085,"y":-0.020,"s":"Q2(Cum)"},{"x":0.087,"y":-0.045,"s":"Q2(Cum)"},{"x":0.083,"y":-0.070,"s":"Q2(Cum)"},{"x":0.088,"y":-0.095,"s":"Q2(Cum)"},{"x":0.084,"y":-0.120,"s":"Q2(Cum)"},{"x":0.086,"y":-0.145,"s":"Q2(Cum)"},{"x":0.082,"y":-0.170,"s":"Q2(Cum)"},{"x":0.087,"y":-0.195,"s":"Q2(Cum)"},{"x":0.085,"y":-0.210,"s":"Q2(Cum)"},
  {"x":0.120,"y":-0.020,"s":"Q2(Cum)"},{"x":0.122,"y":-0.045,"s":"Q2(Cum)"},{"x":0.118,"y":-0.070,"s":"Q2(Cum)"},{"x":0.123,"y":-0.095,"s":"Q2(Cum)"},{"x":0.119,"y":-0.120,"s":"Q2(Cum)"},{"x":0.121,"y":-0.145,"s":"Q2(Cum)"},{"x":0.117,"y":-0.170,"s":"Q2(Cum)"},{"x":0.122,"y":-0.210,"s":"Q2(Cum)"},
  {"x":0.155,"y":-0.046,"s":"Q2(Cum)"},{"x":0.157,"y":-0.070,"s":"Q2(Cum)"},{"x":0.153,"y":-0.095,"s":"Q2(Cum)"},{"x":0.158,"y":-0.120,"s":"Q2(Cum)"},{"x":0.154,"y":-0.145,"s":"Q2(Cum)"},{"x":0.156,"y":-0.170,"s":"Q2(Cum)"},{"x":0.152,"y":-0.210,"s":"Q2(Cum)"},
  {"x":0.190,"y":-0.077,"s":"Q2(Cum)"},{"x":0.192,"y":-0.100,"s":"Q2(Cum)"},{"x":0.188,"y":-0.125,"s":"Q2(Cum)"},{"x":0.193,"y":-0.150,"s":"Q2(Cum)"},{"x":0.189,"y":-0.175,"s":"Q2(Cum)"},{"x":0.191,"y":-0.210,"s":"Q2(Cum)"},
  {"x":0.225,"y":-0.100,"s":"Q2(Cum)"},{"x":0.227,"y":-0.160,"s":"Q2(Cum)"},{"x":0.223,"y":-0.210,"s":"Q2(Cum)"},
  {"x":1.0,"y":0.218,"s":"Q2(Cum)"}
 ],
 "permB": [
  {"x":0.040,"y":0.440,"s":"R2Y(Cum)"},{"x":0.075,"y":0.405,"s":"R2Y(Cum)"},{"x":0.037,"y":0.381,"s":"R2Y(Cum)"},{"x":0.071,"y":0.380,"s":"R2Y(Cum)"},{"x":0.170,"y":0.366,"s":"R2Y(Cum)"},{"x":0.174,"y":0.372,"s":"R2Y(Cum)"},{"x":0.267,"y":0.353,"s":"R2Y(Cum)"},{"x":0.232,"y":0.287,"s":"R2Y(Cum)"},{"x":0.270,"y":0.253,"s":"R2Y(Cum)"},{"x":0.235,"y":0.212,"s":"R2Y(Cum)"},{"x":0.235,"y":0.195,"s":"R2Y(Cum)"},{"x":0.235,"y":0.178,"s":"R2Y(Cum)"},
  {"x":0.000,"y":0.355,"s":"R2Y(Cum)"},{"x":0.003,"y":0.330,"s":"R2Y(Cum)"},{"x":-0.002,"y":0.305,"s":"R2Y(Cum)"},{"x":0.002,"y":0.280,"s":"R2Y(Cum)"},{"x":0.000,"y":0.255,"s":"R2Y(Cum)"},{"x":0.003,"y":0.230,"s":"R2Y(Cum)"},{"x":-0.001,"y":0.205,"s":"R2Y(Cum)"},{"x":0.002,"y":0.180,"s":"R2Y(Cum)"},{"x":0.000,"y":0.160,"s":"R2Y(Cum)"},
  {"x":0.035,"y":0.345,"s":"R2Y(Cum)"},{"x":0.038,"y":0.320,"s":"R2Y(Cum)"},{"x":0.033,"y":0.295,"s":"R2Y(Cum)"},{"x":0.037,"y":0.270,"s":"R2Y(Cum)"},{"x":0.034,"y":0.245,"s":"R2Y(Cum)"},{"x":0.036,"y":0.220,"s":"R2Y(Cum)"},{"x":0.032,"y":0.195,"s":"R2Y(Cum)"},{"x":0.038,"y":0.170,"s":"R2Y(Cum)"},
  {"x":0.070,"y":0.350,"s":"R2Y(Cum)"},{"x":0.073,"y":0.325,"s":"R2Y(Cum)"},{"x":0.068,"y":0.300,"s":"R2Y(Cum)"},{"x":0.072,"y":0.275,"s":"R2Y(Cum)"},{"x":0.069,"y":0.250,"s":"R2Y(Cum)"},{"x":0.071,"y":0.225,"s":"R2Y(Cum)"},{"x":0.067,"y":0.200,"s":"R2Y(Cum)"},{"x":0.073,"y":0.175,"s":"R2Y(Cum)"},{"x":0.070,"y":0.152,"s":"R2Y(Cum)"},
  {"x":0.105,"y":0.360,"s":"R2Y(Cum)"},{"x":0.108,"y":0.335,"s":"R2Y(Cum)"},{"x":0.103,"y":0.310,"s":"R2Y(Cum)"},{"x":0.107,"y":0.285,"s":"R2Y(Cum)"},{"x":0.104,"y":0.260,"s":"R2Y(Cum)"},{"x":0.106,"y":0.235,"s":"R2Y(Cum)"},{"x":0.102,"y":0.210,"s":"R2Y(Cum)"},{"x":0.108,"y":0.185,"s":"R2Y(Cum)"},{"x":0.104,"y":0.147,"s":"R2Y(Cum)"},
  {"x":0.140,"y":0.340,"s":"R2Y(Cum)"},{"x":0.143,"y":0.315,"s":"R2Y(Cum)"},{"x":0.138,"y":0.290,"s":"R2Y(Cum)"},{"x":0.142,"y":0.265,"s":"R2Y(Cum)"},{"x":0.139,"y":0.240,"s":"R2Y(Cum)"},{"x":0.141,"y":0.215,"s":"R2Y(Cum)"},{"x":0.137,"y":0.190,"s":"R2Y(Cum)"},{"x":0.143,"y":0.165,"s":"R2Y(Cum)"},
  {"x":0.175,"y":0.310,"s":"R2Y(Cum)"},{"x":0.178,"y":0.285,"s":"R2Y(Cum)"},{"x":0.173,"y":0.260,"s":"R2Y(Cum)"},{"x":0.177,"y":0.235,"s":"R2Y(Cum)"},{"x":0.174,"y":0.210,"s":"R2Y(Cum)"},{"x":0.176,"y":0.185,"s":"R2Y(Cum)"},{"x":0.172,"y":0.155,"s":"R2Y(Cum)"},
  {"x":0.205,"y":0.260,"s":"R2Y(Cum)"},{"x":0.208,"y":0.235,"s":"R2Y(Cum)"},{"x":0.203,"y":0.210,"s":"R2Y(Cum)"},
  {"x":1.0,"y":0.437,"s":"R2Y(Cum)"},
  {"x":0.000,"y":0.118,"s":"Q2(Cum)"},{"x":0.071,"y":0.126,"s":"Q2(Cum)"},{"x":0.139,"y":0.113,"s":"Q2(Cum)"},{"x":0.108,"y":0.094,"s":"Q2(Cum)"},{"x":0.170,"y":0.075,"s":"Q2(Cum)"},{"x":0.236,"y":0.036,"s":"Q2(Cum)"},{"x":0.273,"y":-0.003,"s":"Q2(Cum)"},{"x":0.207,"y":0.017,"s":"Q2(Cum)"},{"x":0.239,"y":-0.055,"s":"Q2(Cum)"},{"x":0.273,"y":-0.103,"s":"Q2(Cum)"},{"x":0.239,"y":-0.144,"s":"Q2(Cum)"},{"x":0.201,"y":-0.092,"s":"Q2(Cum)"},{"x":0.201,"y":-0.205,"s":"Q2(Cum)"},{"x":0.166,"y":-0.205,"s":"Q2(Cum)"},
  {"x":0.000,"y":0.085,"s":"Q2(Cum)"},{"x":0.002,"y":0.060,"s":"Q2(Cum)"},{"x":-0.001,"y":0.035,"s":"Q2(Cum)"},{"x":0.001,"y":0.010,"s":"Q2(Cum)"},{"x":0.000,"y":-0.015,"s":"Q2(Cum)"},{"x":0.002,"y":-0.040,"s":"Q2(Cum)"},{"x":-0.001,"y":-0.065,"s":"Q2(Cum)"},{"x":0.001,"y":-0.090,"s":"Q2(Cum)"},{"x":0.000,"y":-0.115,"s":"Q2(Cum)"},{"x":0.002,"y":-0.140,"s":"Q2(Cum)"},{"x":-0.001,"y":-0.165,"s":"Q2(Cum)"},{"x":0.001,"y":-0.190,"s":"Q2(Cum)"},{"x":0.000,"y":-0.210,"s":"Q2(Cum)"},
  {"x":0.040,"y":0.075,"s":"Q2(Cum)"},{"x":0.042,"y":0.050,"s":"Q2(Cum)"},{"x":0.038,"y":0.025,"s":"Q2(Cum)"},{"x":0.041,"y":0.000,"s":"Q2(Cum)"},{"x":0.039,"y":-0.025,"s":"Q2(Cum)"},{"x":0.042,"y":-0.050,"s":"Q2(Cum)"},{"x":0.038,"y":-0.075,"s":"Q2(Cum)"},{"x":0.041,"y":-0.100,"s":"Q2(Cum)"},{"x":0.039,"y":-0.125,"s":"Q2(Cum)"},{"x":0.042,"y":-0.150,"s":"Q2(Cum)"},{"x":0.038,"y":-0.175,"s":"Q2(Cum)"},{"x":0.041,"y":-0.200,"s":"Q2(Cum)"},{"x":0.040,"y":-0.210,"s":"Q2(Cum)"},
  {"x":0.080,"y":0.090,"s":"Q2(Cum)"},{"x":0.082,"y":0.065,"s":"Q2(Cum)"},{"x":0.078,"y":0.040,"s":"Q2(Cum)"},{"x":0.081,"y":0.015,"s":"Q2(Cum)"},{"x":0.079,"y":-0.010,"s":"Q2(Cum)"},{"x":0.082,"y":-0.035,"s":"Q2(Cum)"},{"x":0.078,"y":-0.060,"s":"Q2(Cum)"},{"x":0.081,"y":-0.085,"s":"Q2(Cum)"},{"x":0.079,"y":-0.110,"s":"Q2(Cum)"},{"x":0.082,"y":-0.135,"s":"Q2(Cum)"},{"x":0.078,"y":-0.160,"s":"Q2(Cum)"},{"x":0.081,"y":-0.185,"s":"Q2(Cum)"},{"x":0.080,"y":-0.210,"s":"Q2(Cum)"},
  {"x":0.120,"y":0.070,"s":"Q2(Cum)"},{"x":0.122,"y":0.045,"s":"Q2(Cum)"},{"x":0.118,"y":0.020,"s":"Q2(Cum)"},{"x":0.121,"y":-0.005,"s":"Q2(Cum)"},{"x":0.119,"y":-0.030,"s":"Q2(Cum)"},{"x":0.122,"y":-0.055,"s":"Q2(Cum)"},{"x":0.118,"y":-0.080,"s":"Q2(Cum)"},{"x":0.121,"y":-0.105,"s":"Q2(Cum)"},{"x":0.119,"y":-0.130,"s":"Q2(Cum)"},{"x":0.122,"y":-0.155,"s":"Q2(Cum)"},{"x":0.118,"y":-0.180,"s":"Q2(Cum)"},{"x":0.121,"y":-0.205,"s":"Q2(Cum)"},
  {"x":0.160,"y":0.055,"s":"Q2(Cum)"},{"x":0.162,"y":0.030,"s":"Q2(Cum)"},{"x":0.158,"y":0.005,"s":"Q2(Cum)"},{"x":0.161,"y":-0.020,"s":"Q2(Cum)"},{"x":0.159,"y":-0.045,"s":"Q2(Cum)"},{"x":0.162,"y":-0.070,"s":"Q2(Cum)"},{"x":0.158,"y":-0.095,"s":"Q2(Cum)"},{"x":0.161,"y":-0.120,"s":"Q2(Cum)"},{"x":0.159,"y":-0.145,"s":"Q2(Cum)"},
  {"x":0.200,"y":-0.010,"s":"Q2(Cum)"},{"x":0.202,"y":-0.035,"s":"Q2(Cum)"},{"x":0.198,"y":-0.060,"s":"Q2(Cum)"},{"x":0.201,"y":-0.120,"s":"Q2(Cum)"},
  {"x":1.0,"y":0.250,"s":"Q2(Cum)"}
 ],
 "rocA": [{"fpr":0,"tpr":0},{"fpr":0.001,"tpr":0.25},{"fpr":0.003,"tpr":0.33},{"fpr":0.008,"tpr":0.40},{"fpr":0.014,"tpr":0.47},{"fpr":0.027,"tpr":0.55},{"fpr":0.057,"tpr":0.625},{"fpr":0.105,"tpr":0.694},{"fpr":0.205,"tpr":0.756},{"fpr":0.338,"tpr":0.813},{"fpr":0.462,"tpr":0.865},{"fpr":0.595,"tpr":0.897},{"fpr":0.692,"tpr":0.926},{"fpr":0.798,"tpr":0.956},{"fpr":0.904,"tpr":0.984},{"fpr":0.967,"tpr":1.0},{"fpr":1.0,"tpr":1.0}],
 "rocB": [{"fpr":0,"tpr":0},{"fpr":0.003,"tpr":0.055},{"fpr":0.008,"tpr":0.133},{"fpr":0.019,"tpr":0.165},{"fpr":0.036,"tpr":0.265},{"fpr":0.063,"tpr":0.338},{"fpr":0.107,"tpr":0.48},{"fpr":0.151,"tpr":0.563},{"fpr":0.196,"tpr":0.636},{"fpr":0.258,"tpr":0.691},{"fpr":0.328,"tpr":0.727},{"fpr":0.399,"tpr":0.767},{"fpr":0.479,"tpr":0.796},{"fpr":0.594,"tpr":0.869},{"fpr":0.691,"tpr":0.926},{"fpr":0.766,"tpr":0.959},{"fpr":0.824,"tpr":0.976},{"fpr":0.904,"tpr":0.986},{"fpr":1.0,"tpr":1.0}]
}
}
